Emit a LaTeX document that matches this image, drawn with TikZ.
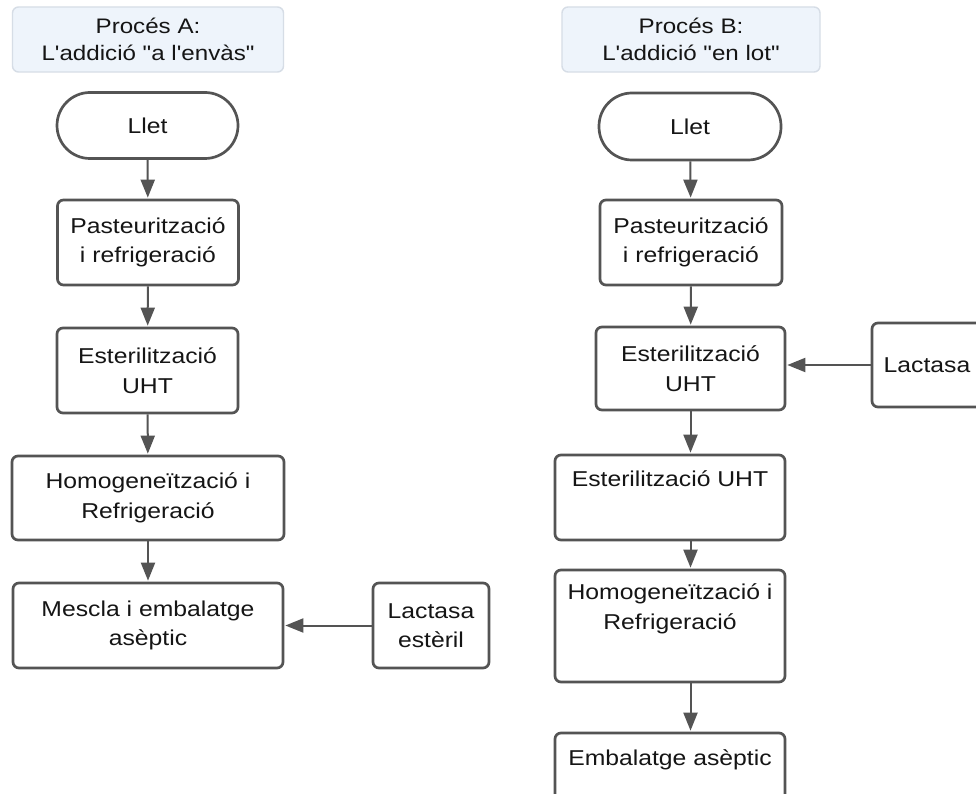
\documentclass[tikz,border=0pt]{standalone}
\usepackage{fontspec}
% Arial-metric sans, slightly widened; no TeX ligatures so quotes stay straight
\newfontfamily\boxfont[FakeStretch=1.15]{Liberation Sans}
\usetikzlibrary{arrows.meta}
\definecolor{edge}{HTML}{545454}
\definecolor{titlefill}{HTML}{EEF4FB}
\definecolor{titleedge}{HTML}{D6DDE6}
\definecolor{ink}{HTML}{151515}
\begin{document}
\begin{tikzpicture}[x=1pt,y=-1pt,
  every node/.style={font=\boxfont\fontsize{21.5}{29.5}\selectfont, text=ink, align=center, inner sep=0pt},
  procbox/.style={draw=edge, line width=2.7pt, rounded corners=6pt, fill=white},
  termbox/.style={draw=edge, line width=2.7pt, rounded corners=33pt, fill=white},
  titlebox/.style={draw=titleedge, line width=1.4pt, rounded corners=6pt, fill=titlefill,
    font=\boxfont\fontsize{21}{27}\selectfont},
  flow/.style={draw=edge, line width=2pt, -{Triangle[width=14pt,length=18pt]}, shorten >=1pt}
]
\useasboundingbox (0,0) rectangle (976,794);
\fill[white] (0,0) rectangle (976,794);
\clip (0,0) rectangle (976,794);

% ---- Process A ----
\node[titlebox, minimum width=271pt, minimum height=65pt] (titleA) at (148,39.5) {Procés A:\\L'addició "a l'envàs"};
\node[termbox, minimum width=181pt, minimum height=66pt] (lletA) at (147.5,125.5) {Llet};
\node[procbox, minimum width=181pt, minimum height=85pt] (pastA) at (148,242.5) {Pasteurització\\i refrigeració};
\node[procbox, minimum width=181pt, minimum height=85pt] (esterA) at (147.5,370.5) {Esterilització\\UHT};
\node[procbox, minimum width=272pt, minimum height=84pt] (homogA) at (148,498) {Homogeneïtzació i\\Refrigeració};
\node[procbox, minimum width=270pt, minimum height=85pt] (mescla) at (148,625.5) {Mescla i embalatge\\asèptic};
\node[procbox, minimum width=116pt, minimum height=85pt] (lactA) at (431,625.5) {Lactasa\\estèril};

\draw[flow] (lletA) -- (pastA);
\draw[flow] (pastA) -- (esterA);
\draw[flow] (esterA) -- (homogA);
\draw[flow] (homogA) -- (mescla);
\draw[flow] (lactA) -- (mescla);

% ---- Process B ----
\node[titlebox, minimum width=258pt, minimum height=65pt] (titleB) at (691,39.5) {Procés B:\\L'addició "en lot"};
\node[termbox, minimum width=182pt, minimum height=67pt] (lletB) at (690,126.5) {Llet};
\node[procbox, minimum width=182pt, minimum height=85pt] (pastB) at (691,242.5) {Pasteurització\\i refrigeració};
\node[procbox, minimum width=189pt, minimum height=83pt] (esterB) at (690.5,368.5) {Esterilització\\UHT};
\node[procbox, minimum width=110pt, minimum height=84pt] (lactB) at (927,365) {Lactasa};
\node[procbox, minimum width=230pt, minimum height=85pt] (ester2B) at (670,497.5) {Esterilització UHT\\\strut};
\node[procbox, minimum width=230pt, minimum height=112pt] (homogB) at (670,626) {Homogeneïtzació i\\Refrigeració\\\strut};
\node[procbox, minimum width=230pt, minimum height=88pt] (embB) at (670,777) {Embalatge asèptic\\\strut};

\draw[flow] (lletB) -- (pastB);
\draw[flow] (pastB) -- (esterB);
\draw[flow] (lactB.west) -- (lactB.west -| esterB.east);
\draw[flow] (esterB.south) -- (esterB.south |- ester2B.north);
\draw[flow] (ester2B.south -| esterB.south) -- (homogB.north -| esterB.south);
\draw[flow] (homogB.south -| esterB.south) -- (embB.north -| esterB.south);
\end{tikzpicture}
\end{document}
